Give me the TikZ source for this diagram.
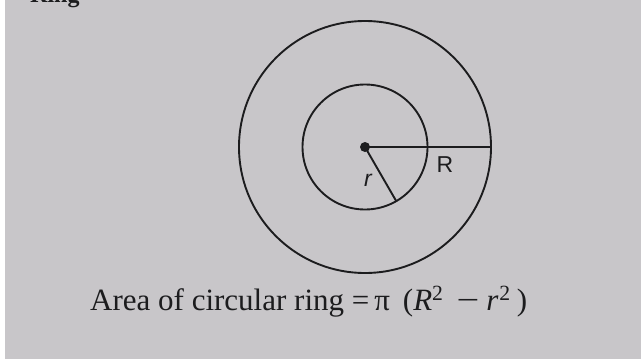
\documentclass[tikz,border=0pt]{standalone}
\usepackage{fontspec}
\setmainfont{Liberation Serif}
\setsansfont{Liberation Sans}
\definecolor{paper}{RGB}{200,198,201}
\definecolor{ink}{RGB}{28,28,30}
\begin{document}
\begin{tikzpicture}[x=1pt,y=-1pt,
  ringline/.style={draw=ink,line width=1.9pt},
  lbl/.style={text=ink,inner sep=0pt,font=\sffamily\fontsize{23}{23}\selectfont}]
\useasboundingbox (0,0) rectangle (644,362);
\fill[white] (0,0) rectangle (644,362);
\fill[paper] (5,0) rectangle (641,359);
\begin{scope}
\clip (0,0) rectangle (644,362);
\node[anchor=base west,inner sep=0pt,text=ink,font=\bfseries\fontsize{24}{24}\selectfont] (ring) at (30,2) {Ring};
\end{scope}
\coordinate (c) at (365,147);
\node[circle,ringline,minimum size=252pt,inner sep=0pt,outer sep=0pt] (outer) at (c) {};
\node[circle,ringline,minimum size=125pt,inner sep=0pt,outer sep=0pt] (inner) at (c) {};
\draw[ringline] (c) -- (outer.east);
\draw[ringline] (c) -- (inner.-60);
\fill[ink] (c) circle (5pt);
\node[lbl] (Rl) at (445,165) {R};
\node[lbl] (rl) at (368,180) {\itshape r};
\node[anchor=base west,inner sep=0pt,text=ink,font=\fontsize{31}{31}\selectfont] (area) at (90,310)
  {Area of circular ring =\hspace{5pt}π\hspace{13pt}(\textit{R}\textsuperscript{2}\hspace{13pt}\scalebox{1.3}[1]{−}\hspace{7pt}\textit{r}\hspace{1pt}\textsuperscript{2}\hspace{6pt})};
\end{tikzpicture}
\end{document}
